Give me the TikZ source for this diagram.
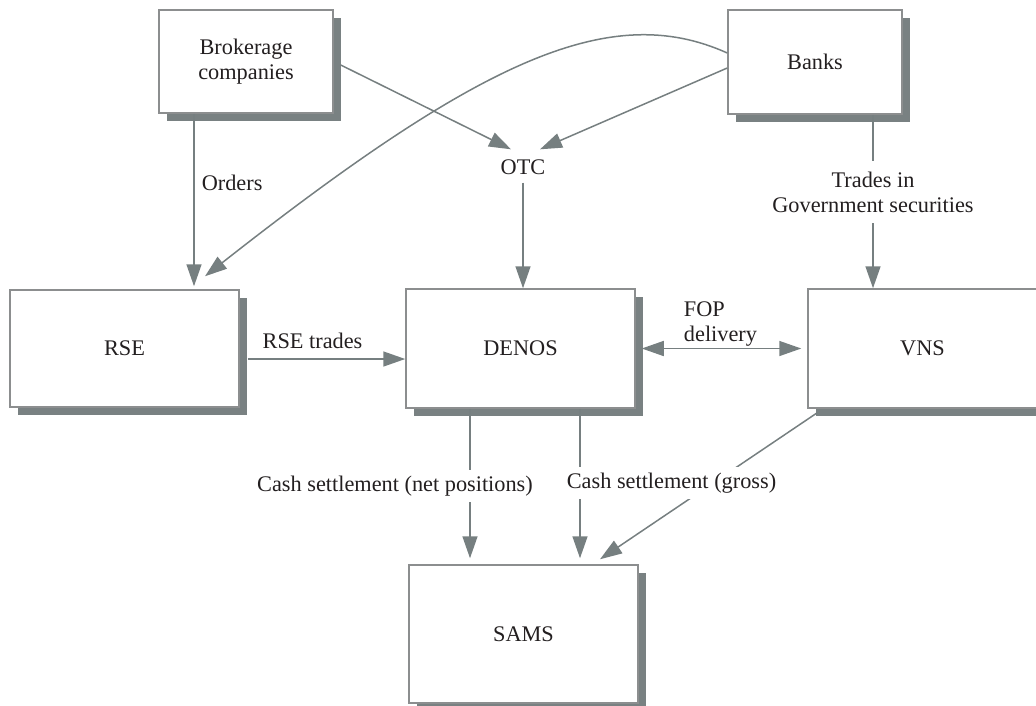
\documentclass[tikz,border=0pt]{standalone}
\usepackage{fontspec}
\setmainfont{Liberation Serif}
\usetikzlibrary{arrows.meta,shadows}
\definecolor{boxline}{RGB}{140,142,143}
\definecolor{shadowc}{RGB}{121,129,130}
\definecolor{arrowc}{RGB}{118,127,128}
\definecolor{txt}{RGB}{35,31,32}
\begin{document}
\begin{tikzpicture}[x=1pt,y=-1pt,
  font=\fontsize{22.3}{25}\selectfont, text=txt,
  sbox/.style={draw=boxline, line width=1.5pt, fill=white, inner sep=0pt, align=center,
    drop shadow={shadow xshift=8pt, shadow yshift=-8pt, fill=shadowc, opacity=1}},
  conn/.style={draw=arrowc, line width=1.5pt},
  >={Triangle[length=22pt,width=15pt]},
  lbl/.style={inner sep=0pt, align=left},
  wlbl/.style={fill=white, inner xsep=4pt, inner ysep=6pt, align=center}]

\useasboundingbox (0,0) rectangle (1036,705);

% boxes
\node[sbox, minimum width=174pt, minimum height=103pt] (brok) at (246,61.5) {Brokerage\\companies};
\node[sbox, minimum width=174pt, minimum height=104pt] (banks) at (815,62) {Banks};
\node[sbox, minimum width=229pt, minimum height=117pt] (rse) at (124.5,348.5) {RSE};
\node[sbox, minimum width=229pt, minimum height=119pt] (denos) at (520.5,348.5) {DENOS};
\node[sbox, minimum width=229pt, minimum height=119pt] (vns) at (922.5,348.5) {VNS};
\node[sbox, minimum width=229pt, minimum height=138pt] (sams) at (523.5,634) {SAMS};
\node[inner sep=0pt] (otc) at (523,167) {OTC};

% connectors
\draw[conn,->] ([xshift=-52pt]brok.south) -- ([xshift=69.5pt,yshift=3pt]rse.north)
  node[lbl, pos=0.4, anchor=west, xshift=7pt] {Orders};
\draw[conn,->] ([yshift=9pt]banks.west) .. controls (610,0) and (480,60) .. ([xshift=80.5pt,yshift=13pt]rse.north);
\draw[conn,->] ([xshift=7pt,yshift=-3.5pt]brok.east) -- ([xshift=-12pt,yshift=10pt]otc.north);
\draw[conn,->] ([yshift=-6pt]banks.west) -- ([xshift=17pt,yshift=10pt]otc.north);
\draw[conn,->] ([yshift=-8pt]otc.south) -- (otc.south |- denos.north);
\draw[conn,->] ([xshift=58pt]banks.south) -- ([xshift=-49.5pt]vns.north)
  node[wlbl, inner ysep=11pt, pos=0.446] {Trades in\\Government securities};
\draw[conn,->] ([xshift=8pt,yshift=-10.5pt]rse.east) -- ([yshift=-10.5pt]denos.west)
  node[lbl, pos=0.09, anchor=base west, yshift=11pt] {RSE trades};
\draw[conn,<->] ([xshift=6pt]denos.east) -- ([xshift=-6pt]vns.west)
  node[lbl, pos=0.26, anchor=south west, yshift=1pt] {FOP\\delivery};
\draw[conn,->] ([xshift=10pt,yshift=-4pt]vns.south west) -- ([xshift=76.5pt,yshift=5pt]sams.north);
\draw[conn,->] ([xshift=-50.5pt]denos.south) -- ([xshift=-53.5pt,yshift=6pt]sams.north)
  node[wlbl, pos=0.517, xshift=-75pt] {Cash settlement (net positions)};
\draw[conn,->] ([xshift=59.5pt]denos.south) -- ([xshift=56.5pt,yshift=6pt]sams.north)
  node[wlbl, pos=0.497, xshift=91.5pt] {Cash settlement (gross)};
\end{tikzpicture}
\end{document}
